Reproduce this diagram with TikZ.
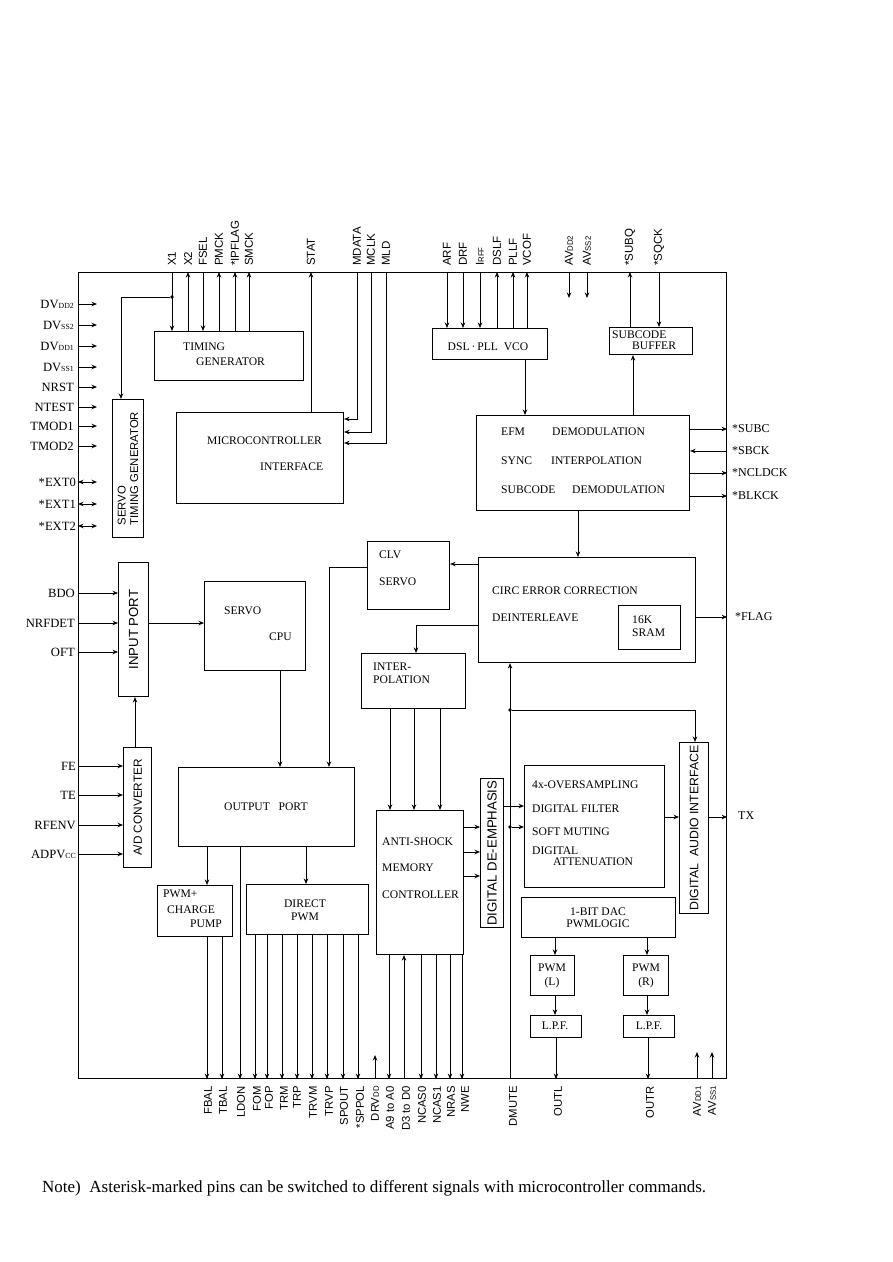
\documentclass[tikz,border=0pt]{standalone}
\usepackage{fontspec}
\setmainfont{Liberation Serif}
\setsansfont{Liberation Sans}
\usetikzlibrary{arrows.meta}
\newcommand\sub[1]{{\fontsize{7.8}{8}\selectfont #1}}
\newcommand\blk[5]{\node[blk, minimum width={#4-#2}, minimum height={#5-#3}] (#1) at (#2,#3) {};}
\begin{document}
\begin{tikzpicture}[x=1pt,y=-1pt,
  blk/.style={draw, line width=1.1pt, inner sep=0pt, anchor=north west},
  ln/.style={line width=1pt},
  arr/.style={ln, -{Stealth[length=5.5pt,width=4.5pt]}},
  darr/.style={ln, {Stealth[length=5.5pt,width=4.5pt]}-{Stealth[length=5.5pt,width=4.5pt]}},
  txt/.style={font=\fontsize{11.6}{12}\selectfont, inner sep=0pt, anchor=west},
  ctxt/.style={font=\fontsize{11.6}{12}\selectfont, inner sep=0pt},
  rtxt/.style={font=\sffamily\fontsize{11}{12.5}\selectfont, inner sep=0pt, rotate=90, align=left},
  tpin/.style={font=\sffamily\fontsize{11.5}{12}\selectfont, rotate=90, anchor=west, inner sep=0pt},
  bpin/.style={font=\sffamily\fontsize{11.3}{12}\selectfont, rotate=90, anchor=east, inner sep=0pt},
  lpin/.style={font=\fontsize{12.6}{13}\selectfont, anchor=east, inner sep=0pt},
  rpin/.style={font=\fontsize{12}{13}\selectfont, anchor=west, inner sep=0pt},
  dot/.style={circle, fill, inner sep=0pt, minimum size=3.6pt}
]
\fill[white] (0,0) rectangle (893,1262);
\useasboundingbox (0,0) rectangle (893,1262);

% ---- blocks ----
\blk{chip}{78}{272}{726}{1078}
\blk{tg}{154}{331}{303}{380}
\blk{stg}{112}{399}{143}{537}
\blk{mci}{176}{412}{343}{503}
\blk{dsl}{432}{328}{547}{359}
\blk{sbuf}{609}{327}{692}{354}
\blk{efm}{476}{415}{689}{510}
\blk{clv}{367}{541}{449}{609}
\blk{circ}{478}{557}{695}{662}
\blk{sram}{618}{605}{680}{649}
\blk{ip}{118}{562}{148}{696}
\blk{cpu}{204}{581}{305}{670}
\blk{interp}{361}{653}{465}{708}
\blk{adc}{123}{747}{151}{867}
\blk{op}{178}{767}{354}{846}
\blk{asm}{376}{810}{463}{954}
\blk{deemp}{480}{778}{503}{927}
\blk{osf}{524}{765}{664}{887}
\blk{dai}{679}{742}{708}{913}
\blk{pcp}{157}{885}{232}{936}
\blk{dpwm}{246}{884}{368}{934}
\blk{dac}{521}{897}{675}{937}
\blk{pwml}{530}{955}{574}{995}
\blk{pwmr}{623}{955}{668}{995}
\blk{lpfl}{530}{1015}{581}{1037}
\blk{lpfr}{623}{1015}{674}{1037}

% ---- block texts ----
\node[txt] (tg1) at (183,347) {TIMING};
\node[txt] (tg2) at (196,362) {GENERATOR};
\node[txt] (mc1) at (207,441) {MICROCONTROLLER};
\node[txt] (mc2) at (260,467) {INTERFACE};
\node[rtxt, font=\sffamily\fontsize{11.3}{12.5}\selectfont] (stgt) at (stg.center) {SERVO\\TIMING GENERATOR};
\node[ctxt] (dslt) at (488,347) {DSL\,·\,PLL\ \ VCO};
\node[txt] (sb1) at (612,335) {SUBCODE};
\node[txt] (sb2) at (632,346) {BUFFER};
\node[txt] (e1) at (501,432) {EFM};
\node[txt] (e2) at (552,432) {DEMODULATION};
\node[txt] (e3) at (501,461) {SYNC};
\node[txt] (e4) at (551,461) {INTERPOLATION};
\node[txt] (e5) at (501,490) {SUBCODE};
\node[txt] (e6) at (572,490) {DEMODULATION};
\node[txt] (clv1) at (379,555) {CLV};
\node[txt] (clv2) at (379,582) {SERVO};
\node[txt] (ci1) at (492,591) {CIRC ERROR CORRECTION};
\node[txt] (ci2) at (492,618) {DEINTERLEAVE};
\node[txt] (sr1) at (632,620) {16K};
\node[txt] (sr2) at (632,633) {SRAM};
\node[rtxt, font=\sffamily\fontsize{13.2}{14}\selectfont] (ipt) at (ip.center) {INPUT PORT};
\node[txt] (cp1) at (224,611) {SERVO};
\node[txt] (cp2) at (269,637) {CPU};
\node[txt] (in1) at (373,667) {INTER-};
\node[txt] (in2) at (373,680) {POLATION};
\node[rtxt, font=\sffamily\fontsize{11.8}{12.5}\selectfont] (adct) at (adc.center) {A/D CONVERTER};
\node[txt] (opt) at (224,807) {OUTPUT\ \ \ PORT};
\node[txt] (as1) at (382,842) {ANTI-SHOCK};
\node[txt] (as2) at (382,868) {MEMORY};
\node[txt] (as3) at (382,895) {CONTROLLER};
\node[rtxt, font=\sffamily\fontsize{13.2}{14}\selectfont] (det) at (deemp.center) {DIGITAL DE-EMPHASIS};
\node[txt] (os1) at (532,785) {4x-OVERSAMPLING};
\node[txt] (os2) at (532,809) {DIGITAL FILTER};
\node[txt] (os3) at (532,832) {SOFT MUTING};
\node[txt] (os4) at (532,851) {DIGITAL};
\node[txt] (os5) at (553,862) {ATTENUATION};
\node[rtxt, font=\sffamily\fontsize{12.3}{13}\selectfont] (dait) at (dai.center) {DIGITAL\ \ AUDIO INTERFACE};
\node[txt] (pc1) at (163,894) {PWM+};
\node[txt] (pc2) at (167,910) {CHARGE};
\node[txt] (pc3) at (190,924) {PUMP};
\node[ctxt] (dp1) at (305,904) {DIRECT};
\node[ctxt] (dp2) at (305,917) {PWM};
\node[ctxt] (da1) at (598,912) {1-BIT DAC};
\node[ctxt] (da2) at (598,924) {PWMLOGIC};
\node[ctxt] (pl1) at (552,968) {PWM};
\node[ctxt] (pl2) at (552,983) {(L)};
\node[ctxt] (pr1) at (646,968) {PWM};
\node[ctxt] (pr2) at (646,983) {(R)};
\node[ctxt] (lf1) at (555,1026) {L.P.F.};
\node[ctxt] (lf2) at (649,1026) {L.P.F.};

% ---- top pins ----
\foreach \x in {172,203} \draw[arr] (chip.north -| \x,0) -- (tg.north -| \x,0);
\foreach \x in {188,219,235,249} \draw[arr] (tg.north -| \x,0) -- (chip.north -| \x,0);
\node[dot] (d1) at (172,297) {};
\draw[arr] (d1) -| (stg.north -| 121,0);
\draw[arr] (mci.north -| 311,0) -- (chip.north -| 311,0);
\draw[arr] (chip.north -| 357,0) |- (mci.east |- 0,419);
\draw[arr] (chip.north -| 371,0) |- (mci.east |- 0,432);
\draw[arr] (chip.north -| 386,0) |- (mci.east |- 0,443);
\foreach \x in {447,463,480} \draw[arr] (chip.north -| \x,0) -- (dsl.north -| \x,0);
\foreach \x in {497,513,527} \draw[arr] (dsl.north -| \x,0) -- (chip.north -| \x,0);
\coordinate (av2a) at (569,298);
\coordinate (av2b) at (587,298);
\draw[arr] (chip.north -| av2a) -- (av2a);
\draw[arr] (chip.north -| av2b) -- (av2b);
\draw[arr] (sbuf.north -| 630,0) -- (chip.north -| 630,0);
\draw[arr] (chip.north -| 659,0) -- (sbuf.north -| 659,0);

\foreach \x/\t in {172/X1,188/X2,203/FSEL,219/PMCK,235/*IPFLAG,249/SMCK,311/STAT,357/MDATA,371/MCLK,386/MLD,447/ARF,463/DRF,480/{I\sub{RFF}},497/DSLF,513/PLLF,527/VCOF,569/{AV\sub{DD2}},587/{AV\sub{SS2}},630/*SUBQ,659/*SQCK}
  \node[tpin] (tp\x) at (\x,266) {\t};

% ---- left pins ----
\foreach \y/\t in {304/{DV\sub{DD2}},325/{DV\sub{SS2}},346/{DV\sub{DD1}},367/{DV\sub{SS1}},387/NRST,407/NTEST,426/TMOD1,446/TMOD2}{
  \coordinate (lc\y) at (97,\y);
  \draw[arr] (chip.west |- lc\y) -- (lc\y);
  \node[lpin] (lp\y) at (74,\y) {\t};
}
\foreach \y/\t in {482/*EXT0,504/*EXT1,526/*EXT2}{
  \coordinate (lc\y) at (97,\y);
  \draw[darr] (chip.west |- lc\y) -- (lc\y);
  \node[lpin] (lp\y) at (76,\y) {\t};
}
\foreach \y/\t in {593/BDO,623/NRFDET,652/OFT}{
  \draw[arr] (chip.west |- 0,\y) -- (ip.west |- 0,\y);
  \node[lpin] (lp\y) at (75,\y) {\t};
}
\foreach \y/\t in {766/FE,795/TE,825/RFENV,854/{ADPV\sub{CC}}}{
  \draw[arr] (chip.west |- 0,\y) -- (adc.west |- 0,\y);
  \node[lpin] (lp\y) at (76,\y) {\t};
}

% ---- right pins ----
\draw[arr] (efm.east |- 0,429) -- (chip.east |- 0,429);
\draw[arr] (chip.east |- 0,451) -- (efm.east |- 0,451);
\draw[arr] (efm.east |- 0,473) -- (chip.east |- 0,473);
\draw[arr] (efm.east |- 0,496) -- (chip.east |- 0,496);
\draw[arr] (circ.east |- 0,617) -- (chip.east |- 0,617);
\draw[arr] (dai.east |- 0,817) -- (chip.east |- 0,817);
\node[rpin] (rp1) at (732,429) {*SUBC};
\node[rpin] (rp2) at (732,451) {*SBCK};
\node[rpin] (rp3) at (732,473) {*NCLDCK};
\node[rpin] (rp4) at (732,496) {*BLKCK};
\node[rpin] (rp5) at (735,617) {*FLAG};
\node[rpin] (rp6) at (738,816) {TX};

% ---- internal connections ----
\draw[arr] (dsl.south -| 525,0) -- (efm.north -| 525,0);
\draw[arr] (efm.north -| 633,0) -- (sbuf.south -| 633,0);
\draw[arr] (efm.south -| 578,0) -- (circ.north -| 578,0);
\draw[arr] (circ.west |- 0,564) -- (clv.east |- 0,564);
\draw[arr] (clv.west |- 0,567) -| (op.north -| 329,0);
\draw[arr] (circ.west |- 0,625) -| (interp.north -| 416,0);
\draw[arr] (ip.east |- 0,623) -- (cpu.west |- 0,623);
\draw[arr] (adc.north -| 135,0) -- (ip.south -| 135,0);
\draw[arr] (cpu.south -| 280,0) -- (op.north -| 280,0);
\foreach \x in {390,414,440} \draw[arr] (interp.south -| \x,0) -- (asm.north -| \x,0);
\foreach \y in {827,852,876} \draw[arr] (asm.east |- 0,\y) -- (deemp.west |- 0,\y);
\draw[arr] (deemp.east |- 0,806) -- (osf.west |- 0,806);
\draw[arr] (osf.east |- 0,817) -- (dai.west |- 0,817);
% DMUTE
\draw[arr] (chip.south -| 510,0) -- (circ.south -| 510,0);
\node[dot] (d2) at (510,710) {};
\node[dot] (d3) at (510,827) {};
\draw[arr] (d2) -| (dai.north -| 695,0);
\draw[arr] (d3) -- (osf.west |- d3);
% DAC / PWM / LPF
\draw[arr] (dac.south -| 555,0) -- (pwml.north -| 555,0);
\draw[arr] (dac.south -| 647,0) -- (pwmr.north -| 647,0);
\draw[arr] (pwml.south -| 555,0) -- (lpfl.north -| 555,0);
\draw[arr] (pwmr.south -| 647,0) -- (lpfr.north -| 647,0);
\draw[arr] (lpfl.south -| 556,0) -- (chip.south -| 556,0);
\draw[arr] (lpfr.south -| 648,0) -- (chip.south -| 648,0);
% output port
\draw[arr] (op.south -| 207,0) -- (pcp.north -| 207,0);
\draw[arr] (op.south -| 306,0) -- (dpwm.north -| 306,0);
\draw[arr] (op.south -| 240,0) -- (chip.south -| 240,0);
\foreach \x in {207,222} \draw[arr] (pcp.south -| \x,0) -- (chip.south -| \x,0);
\foreach \x in {255,267,282,297,312,327,343,358} \draw[arr] (dpwm.south -| \x,0) -- (chip.south -| \x,0);
\foreach \x in {389,421,436,450,462} \draw[arr] (asm.south -| \x,0) -- (chip.south -| \x,0);
\draw[arr] (chip.south -| 404,0) -- (asm.south -| 404,0);
\coordinate (drv) at (375,1055);
\draw[arr] (chip.south -| drv) -- (drv);
\coordinate (av1a) at (697,1052);
\coordinate (av1b) at (712,1052);
\draw[arr] (chip.south -| av1a) -- (av1a);
\draw[arr] (chip.south -| av1b) -- (av1b);

\foreach \x/\t in {208/FBAL,223/TBAL,241/LDON,257/FOM,269/FOP,284/TRM,297/TRP,313/TRVM,329/TRVP,344/SPOUT,360/*SPPOL,375/{DRV\sub{DD}},390/A9 to A0,406/D3 to D0,422/NCAS0,437/NCAS1,451/NRAS,465/NWE,513/DMUTE,558/OUTL,650/OUTR,697/{AV\sub{DD1}},712/{AV\sub{SS1}}}
  \node[bpin] (bp\x) at (\x,1086) {\t};

% ---- note ----
\node[font=\fontsize{17}{19}\selectfont, anchor=west, inner sep=0pt] (note) at (42,1188)
  {Note)\ \ Asterisk-marked pins can be switched to different signals with microcontroller commands.};
\end{tikzpicture}
\end{document}
